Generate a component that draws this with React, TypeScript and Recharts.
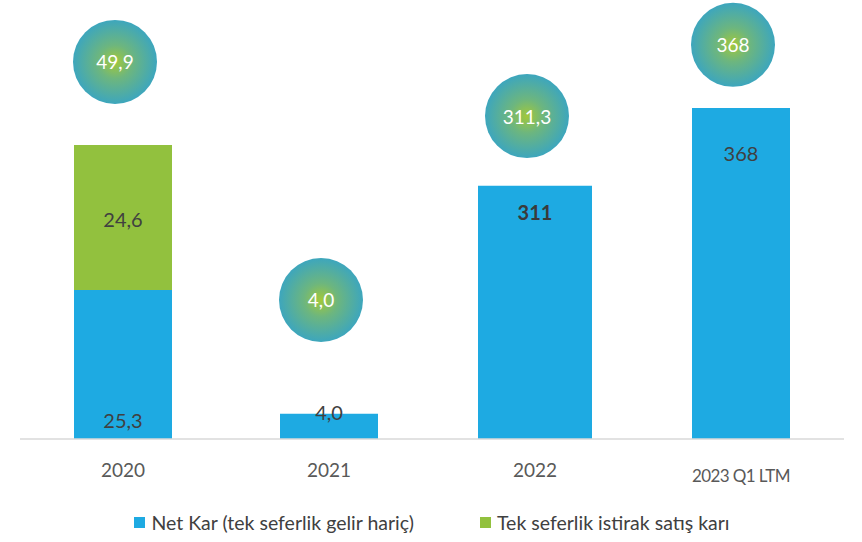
import React from 'react';
import { ComposedChart, Bar, Line, XAxis, YAxis, Legend, LabelList, Rectangle } from 'recharts';

const categories = ['2020', '2021', '2022', '2023 Q1 LTM'];
const netKar = [25.3, 4.3, 43.0, 56.2];
const oneOff = [24.6, null, null, null];
const netKarLabels = ['25,3', '4,0', '311', '368'];
const oneOffLabels = ['24,6', '', '', ''];
const bubbleLevel = [64.0, 23.6, 54.8, 66.9];
const bubbleLabels = ['49,9', '4,0', '311,3', '368'];
const seriesNames = ['Net Kar (tek seferlik gelir hariç)', 'Tek seferlik istirak satış karı'];

const data = categories.map((c, i) => ({
  name: c,
  netKar: netKar[i],
  oneOff: oneOff[i],
  bubble: bubbleLevel[i],
}));

const BLUE = '#1eaae2';
const GREEN = '#92c13e';
const FONT = 'Lato, "Open Sans", sans-serif';

const NetShape = (props: any) => {
  const { x, y, width, height, index } = props;
  const extra = index === 2 ? 16 : 0;
  return <Rectangle x={x - extra / 2} y={y} width={width + extra} height={height} fill={BLUE} />;
};

const netLabel = (props: any) => {
  const { x, y, width, height, index } = props;
  const cx = x + width / 2;
  let ty = y + 26;
  let weight = 400;
  let fill = '#404040';
  if (index === 0) ty = y + height - 19;
  if (index === 1) ty = y - 2;
  if (index === 2) { ty = y + 26; weight = 700; fill = '#3a3a3a'; }
  if (index === 3) ty = y + 45;
  return (
    <text x={cx} y={ty} textAnchor="middle" dominantBaseline="central" fontSize={20} fontFamily={FONT} fontWeight={weight} fill={fill}>
      {netKarLabels[index]}
    </text>
  );
};

const oneOffLabel = (props: any) => {
  const { x, y, width, height, index } = props;
  if (!oneOffLabels[index]) return null;
  return (
    <text x={x + width / 2} y={y + height / 2 + 2} textAnchor="middle" dominantBaseline="central" fontSize={20} fontFamily={FONT} fill="#404040">
      {oneOffLabels[index]}
    </text>
  );
};

const BubbleDot = (props: any) => {
  const { cx, cy, index } = props;
  if (cx == null || cy == null) return null;
  const x = cx - 8;
  return (
    <g key={`b${index}`}>
      <circle cx={x} cy={cy} r={42} fill="url(#bubGrad)" />
      <text x={x} y={cy} textAnchor="middle" dominantBaseline="central" fontSize={19} fontFamily={FONT} fill="#ffffff">
        {bubbleLabels[index]}
      </text>
    </g>
  );
};

const Tick = (props: any) => {
  const { x, y, payload } = props;
  const small = payload.value === '2023 Q1 LTM';
  return (
    <text x={x} y={y + (small ? 28 : 22)} textAnchor="middle" dominantBaseline="central" fontSize={small ? 17 : 19} fontFamily={FONT} fill="#595959" letterSpacing={small ? -0.6 : 0}>
      {payload.value}
    </text>
  );
};

const LegendContent = () => (
  <div style={{ display: 'flex', justifyContent: 'center', alignItems: 'center', fontFamily: FONT, fontSize: 19.5, color: '#404040', height: 40 }}>
    <span style={{ display: 'inline-block', width: 11, height: 11, background: BLUE, marginRight: 6 }} />
    <span style={{ marginRight: 66 }}>{seriesNames[0]}</span>
    <span style={{ display: 'inline-block', width: 11, height: 11, background: GREEN, marginRight: 6 }} />
    <span>{seriesNames[1]}</span>
  </div>
);

export default function App() {
  return (
    <div style={{ position: 'absolute', left: 0, top: 0, width: 862, height: 542, background: '#ffffff' }}>
      <ComposedChart width={862} height={542} data={data} margin={{ top: 3, right: 18, left: 20, bottom: 0 }} barCategoryGap={0}>
        <defs>
          <radialGradient id="bubGrad" cx="50%" cy="50%" r="50%">
            <stop offset="0%" stopColor="#a2c83a" />
            <stop offset="40%" stopColor="#6db67e" />
            <stop offset="100%" stopColor="#3da6bd" />
          </radialGradient>
        </defs>
        <XAxis dataKey="name" height={63} axisLine={{ stroke: '#d9d9d9', strokeWidth: 1.5 }} tickLine={false} tick={<Tick />} interval={0} />
        <YAxis hide domain={[0, 74]} />
        <Bar dataKey="netKar" stackId="a" barSize={98} fill={BLUE} shape={<NetShape />} isAnimationActive={false}>
          <LabelList dataKey="netKar" content={netLabel} />
        </Bar>
        <Bar dataKey="oneOff" stackId="a" barSize={98} fill={GREEN} isAnimationActive={false}>
          <LabelList dataKey="oneOff" content={oneOffLabel} />
        </Bar>
        <Line dataKey="bubble" stroke="none" dot={<BubbleDot />} activeDot={false} isAnimationActive={false} legendType="none" />
        <Legend verticalAlign="bottom" height={40} content={<LegendContent />} />
      </ComposedChart>
    </div>
  );
}
